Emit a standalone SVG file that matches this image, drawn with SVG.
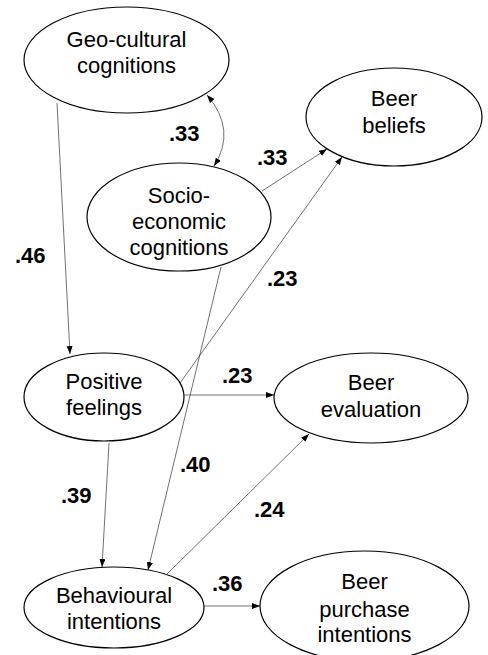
<svg xmlns="http://www.w3.org/2000/svg" width="488" height="655" viewBox="0 0 488 655">
<style>
.n{fill:#fff;stroke:#000;stroke-width:1.2}
.t{font-family:"Liberation Sans",Arial,sans-serif;font-size:22px;fill:#000;text-anchor:middle}
.l{font-family:"Liberation Sans",Arial,sans-serif;font-size:22px;font-weight:bold;fill:#000}
.c{fill:none;stroke:#333;stroke-width:0.7}
</style>
<defs>
<marker id="a" markerUnits="userSpaceOnUse" markerWidth="9" markerHeight="7" refX="8" refY="3" orient="auto-start-reverse">
<path d="M0,0 L8,3 L0,6 z" fill="#000"/>
</marker>
</defs>
<rect width="488" height="655" fill="#fff"/>
<g id="connectors">
<line class="c" x1="57" y1="103" x2="70" y2="354" marker-end="url(#a)"/>
<path class="c" d="M207,95 Q237,130 214,166" marker-start="url(#a)" marker-end="url(#a)"/>
<line class="c" x1="262" y1="191" x2="327" y2="149" marker-end="url(#a)"/>
<line class="c" x1="180" y1="383" x2="342" y2="157" marker-end="url(#a)"/>
<line class="c" x1="183" y1="395" x2="274" y2="395" marker-end="url(#a)"/>
<line class="c" x1="221" y1="267" x2="148" y2="570" marker-end="url(#a)"/>
<line class="c" x1="109" y1="443" x2="102" y2="567" marker-end="url(#a)"/>
<line class="c" x1="167" y1="574" x2="309" y2="434" marker-end="url(#a)"/>
<line class="c" x1="204" y1="606" x2="260" y2="606" marker-end="url(#a)"/>
</g>
<g id="labels">
<text class="l" x="169" y="141">.33</text>
<text class="l" x="257" y="165">.33</text>
<text class="l" x="15" y="263">.46</text>
<text class="l" x="267" y="286">.23</text>
<text class="l" x="222" y="383">.23</text>
<text class="l" x="180" y="472">.40</text>
<text class="l" x="61" y="503">.39</text>
<text class="l" x="254" y="517">.24</text>
<text class="l" x="212" y="591">.36</text>
</g>
<g id="geo">
<ellipse class="n" cx="126.5" cy="60" rx="102.5" ry="53"/>
<text class="t" x="126.5" y="47">Geo-cultural</text>
<text class="t" x="126.5" y="73">cognitions</text>
</g>
<g id="socio">
<ellipse class="n" cx="179" cy="217" rx="92" ry="54"/>
<text class="t" x="179" y="203">Socio-</text>
<text class="t" x="179" y="229">economic</text>
<text class="t" x="179" y="255">cognitions</text>
</g>
<g id="beliefs">
<ellipse class="n" cx="394" cy="117" rx="88" ry="49"/>
<text class="t" x="394" y="106">Beer</text>
<text class="t" x="394" y="133">beliefs</text>
</g>
<g id="positive">
<ellipse class="n" cx="104" cy="397" rx="80" ry="44"/>
<text class="t" x="104" y="389">Positive</text>
<text class="t" x="104" y="415">feelings</text>
</g>
<g id="evaluation">
<ellipse class="n" cx="371" cy="398" rx="97" ry="45"/>
<text class="t" x="371" y="390">Beer</text>
<text class="t" x="371" y="417">evaluation</text>
</g>
<g id="behavioural">
<ellipse class="n" cx="114" cy="607.5" rx="90" ry="40.5"/>
<text class="t" x="114" y="603">Behavioural</text>
<text class="t" x="114" y="629">intentions</text>
</g>
<g id="purchase">
<ellipse class="n" cx="364.5" cy="606" rx="104.5" ry="55"/>
<text class="t" x="364.5" y="589">Beer</text>
<text class="t" x="364.5" y="617">purchase</text>
<text class="t" x="364.5" y="642">intentions</text>
</g>
</svg>
